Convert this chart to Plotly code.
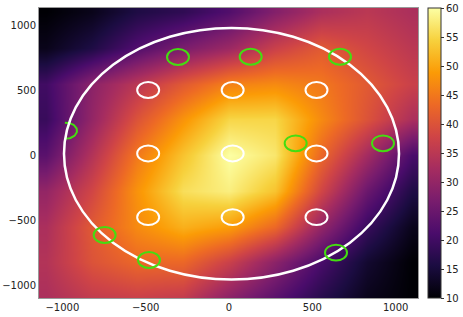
import numpy as np
import plotly.graph_objects as go

xs = [-1100, -825, -550, -275, 0, 275, 550, 825, 1100]
ys = [-1100, -825, -550, -275, 0, 275, 550, 825, 1100]
z = [
    [33, 36, 37, 36, 29, 23, 17, 12, 10],
    [34, 40, 43, 43, 37, 29, 21, 14, 10],
    [33, 41, 47, 51, 49, 43, 30, 19, 12],
    [30, 38, 48, 56, 58, 53, 38, 25, 16],
    [23, 34, 45, 53, 60, 57, 43, 32, 21],
    [19, 30, 40, 48, 55, 55, 47, 40, 33],
    [20, 29, 35, 41, 46, 47, 45, 41, 37],
    [12, 16, 22, 27, 31, 37, 41, 38, 35],
    [10, 12, 16, 18, 22, 28, 33, 35, 33],
]

# big boundary ellipse
big_cx, big_cy, big_rx, big_ry = 15, 10, 1005, 968

# white small circles
white_x = [-485, 22, 525, -485, 22, 525, -485, 22, 525]
white_y = [500, 500, 500, 12, 12, 12, -478, -478, -478]

# green circles
green_x = [-306, 130, 666, 400, 924, -746, -480, 642]
green_y = [754, 756, 756, 90, 90, -615, -808, -751]
# green half-arc at left
arc_x, arc_y = -978, 187

r_x, r_y = 66, 61

fig = go.Figure()
fig.add_trace(go.Heatmap(
    x=xs, y=ys, z=z, colorscale="Inferno", zmin=10, zmax=60, zsmooth="best",
    colorbar=dict(
        x=1.026, xanchor="left", xpad=0, ypad=0, y=0, yanchor="bottom",
        len=1, lenmode="fraction", thickness=13,
        outlinewidth=1, outlinecolor="#333",
        tickvals=list(range(10, 61, 5)), ticks="outside", ticklen=3,
        tickcolor="#333", tickfont=dict(size=10, color="#222", family="DejaVu Sans"),
    ),
    hoverinfo="skip",
))

shapes = []
shapes.append(dict(type="circle", xref="x", yref="y",
                   x0=big_cx - big_rx, x1=big_cx + big_rx,
                   y0=big_cy - big_ry, y1=big_cy + big_ry,
                   line=dict(color="white", width=2.5)))
for cx, cy in zip(white_x, white_y):
    shapes.append(dict(type="circle", xref="x", yref="y",
                       x0=cx - r_x, x1=cx + r_x, y0=cy - r_y, y1=cy + r_y,
                       line=dict(color="white", width=2)))
for cx, cy in zip(green_x, green_y):
    shapes.append(dict(type="circle", xref="x", yref="y",
                       x0=cx - r_x, x1=cx + r_x, y0=cy - r_y, y1=cy + r_y,
                       line=dict(color="#44dd11", width=2)))

t = np.linspace(-np.pi / 2 - 0.1, np.pi / 2 + 0.1, 40)
fig.add_trace(go.Scatter(x=arc_x + r_x * np.cos(t), y=arc_y + r_y * np.sin(t),
                         mode="lines", line=dict(color="#44dd11", width=2),
                         showlegend=False, hoverinfo="skip"))

axis_common = dict(showgrid=False, zeroline=False, showline=True, mirror=True,
                   linecolor="#999", linewidth=1, ticks="", automargin=False,
                   tickfont=dict(size=10, color="#222", family="DejaVu Sans"))
fig.update_layout(
    width=463, height=317,
    margin=dict(l=39, r=45, t=8, b=19, autoexpand=False),
    paper_bgcolor="white", plot_bgcolor="white",
    shapes=shapes,
    xaxis=dict(range=[-1140, 1134], tickvals=[-1000, -500, 0, 500, 1000], **axis_common),
    yaxis=dict(range=[-1100, 1131], tickvals=[-1000, -500, 0, 500, 1000], **axis_common),
    showlegend=False,
)
fig.write_html("out.html")
